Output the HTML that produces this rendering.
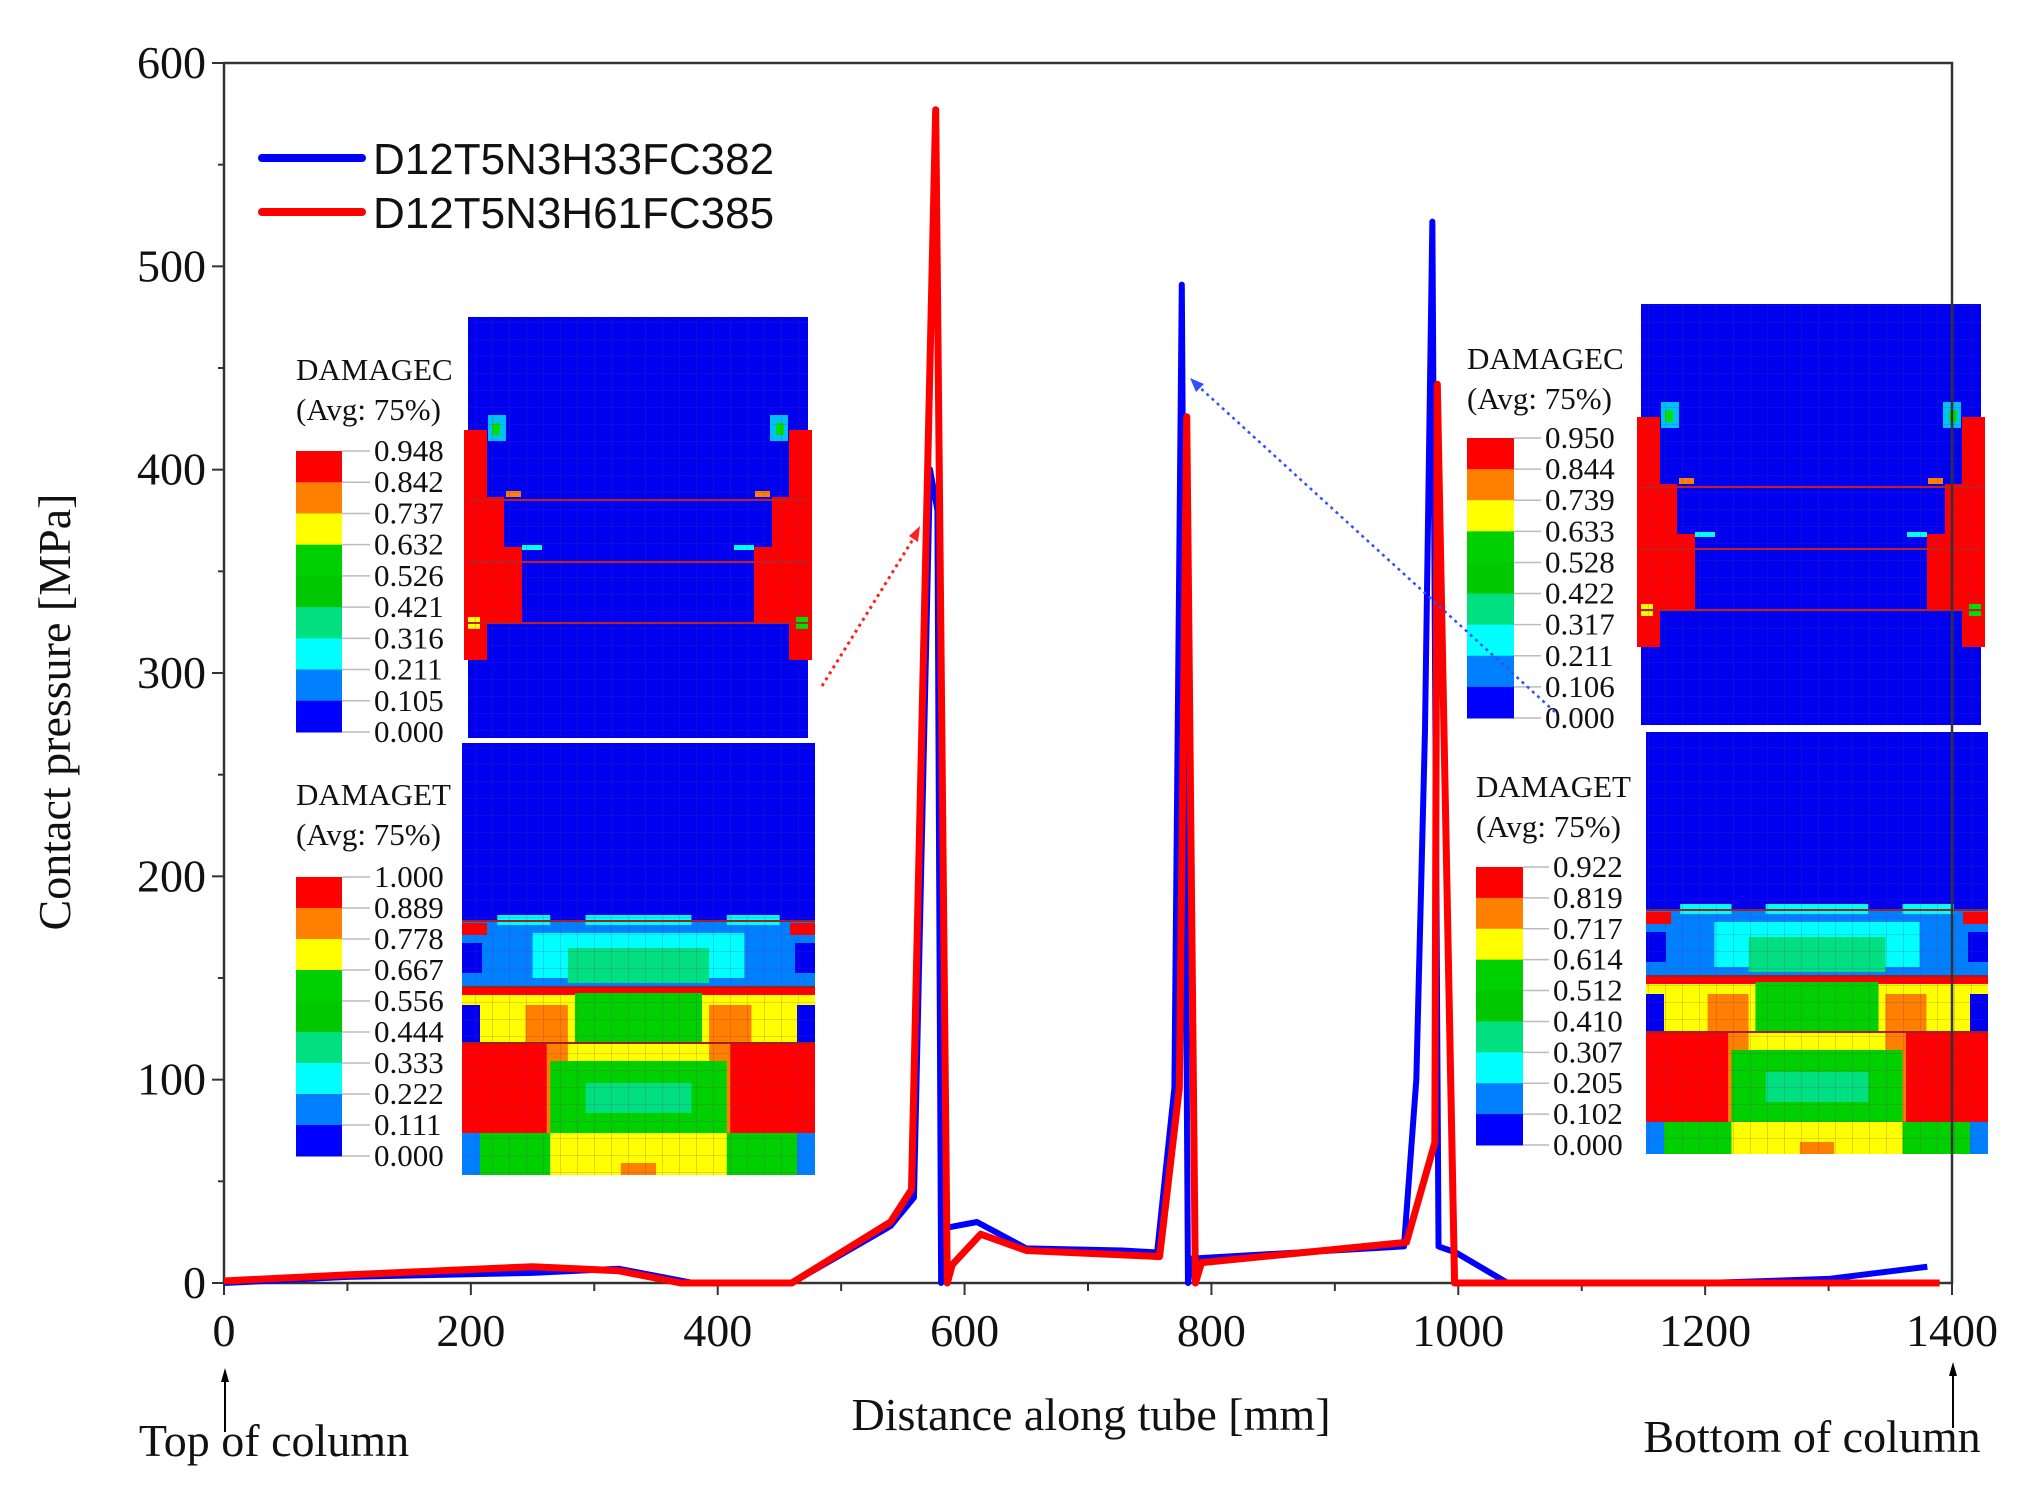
<!DOCTYPE html>
<html><head><meta charset="utf-8"><style>
html,body{margin:0;padding:0;background:#fff;}
svg{display:block;}
.serif{font-family:"Liberation Serif",serif;}
.sans{font-family:"Liberation Sans",sans-serif;}
</style></head><body>
<svg id="chart" width="2039" height="1500" viewBox="0 0 2039 1500">
<defs>
<pattern id="grid" width="17" height="17" patternUnits="userSpaceOnUse"><path d="M17 0V17H0" fill="none" stroke="#7a2a7a" stroke-width="0.8" opacity="0.5"/></pattern>
</defs>
<g id="insets"></g>
<g id="axes"></g>
<g id="series"></g>
<g id="legend">
  <line x1="262" y1="158" x2="362" y2="158" stroke="#0000ff" stroke-width="8" stroke-linecap="round"/>
  <text x="373" y="174" class="sans" font-size="44" fill="#111">D12T5N3H33FC382</text>
  <line x1="262" y1="212" x2="362" y2="212" stroke="#ff0000" stroke-width="8" stroke-linecap="round"/>
  <text x="373" y="228" class="sans" font-size="44" fill="#111">D12T5N3H61FC385</text>
</g>
<text class="serif" font-size="46" fill="#111" text-anchor="middle" transform="translate(70,712) rotate(-90)">Contact pressure [MPa]</text>
<text class="serif" font-size="46" fill="#111" x="1091" y="1430" text-anchor="middle">Distance along tube [mm]</text>
<text class="serif" font-size="46" fill="#111" x="274" y="1456" text-anchor="middle">Top of column</text>
<text class="serif" font-size="46" fill="#111" x="1812" y="1452" text-anchor="middle">Bottom of column</text>
<g><line x1="225" y1="1432" x2="225" y2="1378" stroke="#000" stroke-width="2"/><path d="M221 1382 L225 1368 L229 1382Z" fill="#000"/></g>
<g><line x1="1953" y1="1428" x2="1953" y2="1372" stroke="#000" stroke-width="2"/><path d="M1949 1376 L1953 1362 L1957 1376Z" fill="#000"/></g>
<g><line x1="822" y1="686" x2="915" y2="536" stroke="#ff2020" stroke-width="3" stroke-dasharray="3,4"/><path d="M909 536 L920 526 L918 542Z" fill="#ff2020"/></g>
<g><line x1="1555" y1="712" x2="1196" y2="384" stroke="#3050ff" stroke-width="2.5" stroke-dasharray="3,4"/><path d="M1190 378 L1204 384 L1196 392Z" fill="#3050ff"/></g>
</svg>
<script>
const xVals = [0,100,250,320,380,460,540,559,572,578,581,584,610,650,728,756,770,776,781,784,956,966,973,979,984,998,1040,1100,1200,1300,1380];
const blueVals = [0,3,5,7,0,0,28,42,400,380,0,27,30,17,16,15,96,491,0,12,18,100,271,522,18,15,0,0,0,2,8];
const redX = [0,100,250,320,370,460,540,557,576.6,586,590,613,650,758,774,780,787,792,958,981,983,997,1390];
const redVals = [1,4,8,6,0,0,30,46,577,0,9,24,16,13,96,426,0,10,20,69,442,0,0];
const xTicks = [0,200,400,600,800,1000,1200,1400];
const yTicks = [0,100,200,300,400,500,600];
const cLabelsL = ["0.948","0.842","0.737","0.632","0.526","0.421","0.316","0.211","0.105","0.000"];
const tLabelsL = ["1.000","0.889","0.778","0.667","0.556","0.444","0.333","0.222","0.111","0.000"];
const cLabelsR = ["0.950","0.844","0.739","0.633","0.528","0.422","0.317","0.211","0.106","0.000"];
const tLabelsR = ["0.922","0.819","0.717","0.614","0.512","0.410","0.307","0.205","0.102","0.000"];

const NS="http://www.w3.org/2000/svg";
const X0=224,X1=1952,Y0=1283,Y1=63;
const sx=v=>X0+(v/1400)*(X1-X0);
const sy=v=>Y0-(v/600)*(Y0-Y1);
function mk(tag,attrs,parent){const e=document.createElementNS(NS,tag);for(const k in attrs)e.setAttribute(k,attrs[k]);parent.appendChild(e);return e;}

const axes=document.getElementById('axes');
mk('rect',{x:X0,y:Y1,width:X1-X0,height:Y0-Y1,fill:'none',stroke:'#333',"stroke-width":2.5},axes);
xTicks.forEach(v=>{
  const t=mk('text',{x:sx(v),y:1346,"text-anchor":"middle","font-size":46,fill:"#111",class:"serif"},axes);
  t.textContent=v;
  
  
});
for(let v=0;v<=1400;v+=100){mk('line',{x1:sx(v),x2:sx(v),y1:Y0,y2:Y0+(v%200?8:12),stroke:'#333',"stroke-width":2},axes);}
yTicks.forEach(v=>{
  const t=mk('text',{x:206,y:sy(v)+15,"text-anchor":"end","font-size":46,fill:"#111",class:"serif"},axes);
  t.textContent=v;
  
  
});
for(let v=0;v<=600;v+=50){mk('line',{x1:X0,x2:X0-(v%100?6:12),y1:sy(v),y2:sy(v),stroke:'#333',"stroke-width":2},axes);}

const series=document.getElementById('series');
const pb=mk('polyline',{points:xVals.map((x,i)=>sx(x)+','+sy(blueVals[i])).join(' '),fill:'none',stroke:'#0000ff',"stroke-width":6,"stroke-linejoin":"round"},series);


const pr=mk('polyline',{points:redX.map((x,i)=>sx(x)+','+sy(redVals[i])).join(' '),fill:'none',stroke:'#ff0000',"stroke-width":7,"stroke-linejoin":"round"},series);



const ins=document.getElementById('insets');
const bandCols=["#ff0000","#ff8000","#ffff00","#00d000","#00c800","#00e080","#00ffff","#0080ff","#0000ff"];
function colorbar(x,y0,y1,w,title,labels,lx,ty,name){
  const g=mk('g',{},ins);
  
  
  const h=(y1-y0)/9;
  bandCols.forEach((c,i)=>mk('rect',{x:x,y:y0+i*h,width:w,height:h+0.5,fill:c},g));
  labels.forEach((l,i)=>{const t=mk('text',{x:lx,y:y0+i*h+10,"font-size":31,fill:"#111",class:"serif"},g);t.textContent=l;mk('line',{x1:x+w,x2:lx-4,y1:y0+i*h,y2:y0+i*h,stroke:'#bbb',"stroke-width":1.5},g);});
  const t1=mk('text',{x:x,y:ty,"font-size":31,fill:"#111",class:"serif"},g);t1.textContent=title;
  const t2=mk('text',{x:x,y:ty+40,"font-size":31,fill:"#111",class:"serif"},g);t2.textContent="(Avg: 75%)";
}
function topInset(x,y,w,h,name){
  const g=mk('g',{},ins);
  
  
  mk('rect',{x:x,y:y,width:w,height:h,fill:'#0000f0'},g);
  const R=(a,b,c,d,f)=>mk('rect',{x:x+a,y:y+b,width:c,height:d,fill:f},g);
  // left red steps
  R(-4,113,23,230,'#ff0000');R(-4,180,40,52,'#ff0000');R(-4,230,58,75,'#ff0000');
  R(w-19,113,23,230,'#ff0000');R(w-36,180,40,52,'#ff0000');R(w-54,230,58,75,'#ff0000');
  R(20,98,18,26,'#00c0ff');R(24,106,8,12,'#00e000');R(w-38,98,18,26,'#00c0ff');R(w-32,106,8,12,'#00e000');
  R(38,174,15,6,'#ff8000');R(w-53,174,15,6,'#ff8000');
  R(54,228,20,5,'#00ffff');R(w-74,228,20,5,'#00ffff');
  R(0,300,12,12,'#ffff00');R(w-12,300,12,12,'#00e000');
  [183,245,306].forEach(b=>mk('line',{x1:x,x2:x+w,y1:y+b,y2:y+b,stroke:'#c02020',"stroke-width":2},g));
  mk('rect',{x:x,y:y,width:w,height:h,fill:'url(#grid)'},g);
}
function botInset(x,y,w,h,name){
  const g=mk('g',{},ins);
  
  
  mk('rect',{x:x,y:y,width:w,height:h,fill:'#0000f0'},g);
  const R=(a,b,c,d,f)=>mk('rect',{x:x+a,y:y+b,width:c,height:d,fill:f},g);
  R(0,178,w,68,'#0080ff');R(w*0.2,190,w*0.6,45,'#00ffff');R(w*0.3,205,w*0.4,35,'#00e080');
  R(0,180,25,12,'#ff0000');R(w-25,180,25,12,'#ff0000');R(0,200,20,30,'#0000f0');R(w-20,200,20,30,'#0000f0');
  R(w*0.35,172,w*0.3,10,'#00ffff');R(w*0.1,172,w*0.15,10,'#00ffff');R(w*0.75,172,w*0.15,10,'#00ffff');
  R(0,244,w,58,'#ffff00');R(0,244,w,8,'#ff0000');R(w*0.32,250,w*0.36,50,'#00d000');
  R(w*0.18,262,w*0.12,40,'#ff8000');R(w*0.7,262,w*0.12,40,'#ff8000');
  R(0,262,18,40,'#0000f0');R(w-18,262,18,40,'#0000f0');
  R(0,300,w,92,'#ff8000');R(0,300,w*0.24,92,'#ff0000');R(w*0.76,300,w*0.24,92,'#ff0000');
  R(w*0.3,300,w*0.4,18,'#ffff00');R(w*0.25,318,w*0.5,74,'#00d000');R(w*0.35,340,w*0.3,30,'#00e080');
  R(0,390,w,h-390,'#00d000');R(w*0.25,390,w*0.5,h-390,'#ffff00');R(w*0.45,h-12,w*0.1,12,'#ff8000');
  R(0,390,18,h-390,'#0080ff');R(w-18,390,18,h-390,'#0080ff');
  [178,244,300].forEach(b=>mk('line',{x1:x,x2:x+w,y1:y+b,y2:y+b,stroke:'#a02020',"stroke-width":2},g));
  mk('rect',{x:x,y:y,width:w,height:h,fill:'url(#grid)'},g);
}
topInset(468,317,340,421,'left-damagec-contour');
botInset(462,743,353,432,'left-damaget-contour');
topInset(1641,304,340,421,'right-damagec-contour');
botInset(1646,732,342,422,'right-damaget-contour');
colorbar(296,451,732,46,'DAMAGEC',cLabelsL,374,380,'left-damagec-colorbar');
colorbar(296,877,1156,46,'DAMAGET',tLabelsL,374,805,'left-damaget-colorbar');
colorbar(1467,438,718,47,'DAMAGEC',cLabelsR,1545,369,'right-damagec-colorbar');
colorbar(1476,867,1145,47,'DAMAGET',tLabelsR,1553,797,'right-damaget-colorbar');
</script>
</body></html>
